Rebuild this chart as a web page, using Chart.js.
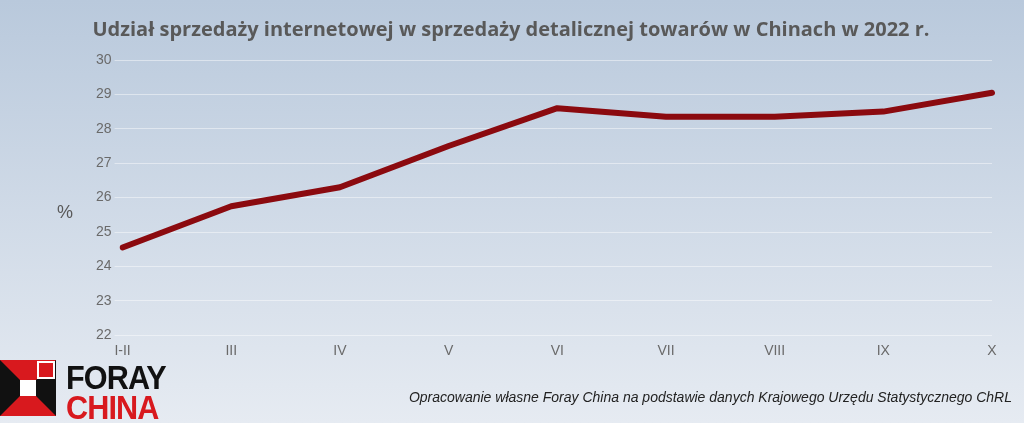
<!DOCTYPE html>
<html><head><meta charset="utf-8">
<script src="https://cdn.jsdelivr.net/npm/chart.js@4"></script>
<style>
html,body{margin:0;padding:0;width:1024px;height:423px;overflow:hidden;font-family:"Liberation Sans",Arial,sans-serif}
#wrap{position:relative;width:1024px;height:423px;background:linear-gradient(#b9c9dc,#e6ebf2)}
#c{position:absolute;left:0;top:0}
#logo{position:absolute;left:0;top:358px;width:180px;height:65px}
#foot{position:absolute;right:12px;top:389px;font-style:italic;font-size:14px;color:#222}
</style></head><body>
<div id="wrap">
<canvas id="c" width="1024" height="423"></canvas>
<div id="logo">
<svg width="60" height="62" style="position:absolute;left:0;top:2px">
<rect x="0" y="0" width="56" height="56" fill="#d8191e"/>
<polygon points="0,0 28,28 0,56" fill="#111"/>
<polygon points="56,0 28,28 56,56" fill="#111"/>
<rect x="20" y="20" width="16" height="16" fill="#fff"/>
<rect x="38" y="2" width="16" height="16" fill="#d8191e" stroke="#fff" stroke-width="2"/>
</svg>
<div style="position:absolute;left:66px;top:0;font:bold 34px 'Liberation Sans Narrow','Liberation Sans',sans-serif;color:#111;letter-spacing:-1px;transform:scaleX(0.9);transform-origin:left">FORAY</div>
<div style="position:absolute;left:66px;top:30px;font:bold 34px 'Liberation Sans Narrow','Liberation Sans',sans-serif;color:#d8191e;letter-spacing:-1px;transform:scaleX(0.9);transform-origin:left">CHINA</div>
</div>
<div id="foot">Opracowanie własne Foray China na podstawie danych Krajowego Urzędu Statystycznego ChRL</div>
</div>
<script>
const categories=["I-II","III","IV","V","VI","VII","VIII","IX","X"];
const values=[24.55,25.75,26.3,27.5,28.6,28.35,28.35,28.5,29.05];
const yTicks=[22,23,24,25,26,27,28,29,30];
const titleText='Udział sprzedaży internetowej w sprzedaży detalicznej towarów w Chinach w 2022 r.';
const extras={id:'extras',afterDraw(ch){const c=ch.ctx;c.save();c.fillStyle='#595959';c.textAlign='center';c.textBaseline='middle';
c.font='18px "Liberation Sans"';c.fillText('%',65,213);
c.font='bold 20px "Open Sans"';c.fillText(titleText,511,30);c.restore();}};
new Chart(document.getElementById('c'),{
type:'line',
data:{labels:categories,datasets:[{data:values,borderColor:'#8b0a0f',borderWidth:6,pointRadius:0,tension:0,borderCapStyle:'round',borderJoinStyle:'round'}]},
options:{responsive:false,animation:false,
layout:{padding:{left:93,right:32,top:60,bottom:63}},
plugins:{legend:{display:false},tooltip:{enabled:false},title:{display:false}},
scales:{
x:{offset:false,grid:{display:false},border:{display:false},ticks:{color:'#6a6a6a',font:{size:14},padding:0}},
y:{min:22,max:30,afterBuildTicks:a=>{a.ticks=yTicks.map(v=>({value:v}))},
grid:{color:'rgba(255,255,255,0.45)'},border:{display:false},
ticks:{color:'#6a6a6a',font:{size:14},padding:3}}
}}, plugins:[extras]});
</script>
</body></html>
